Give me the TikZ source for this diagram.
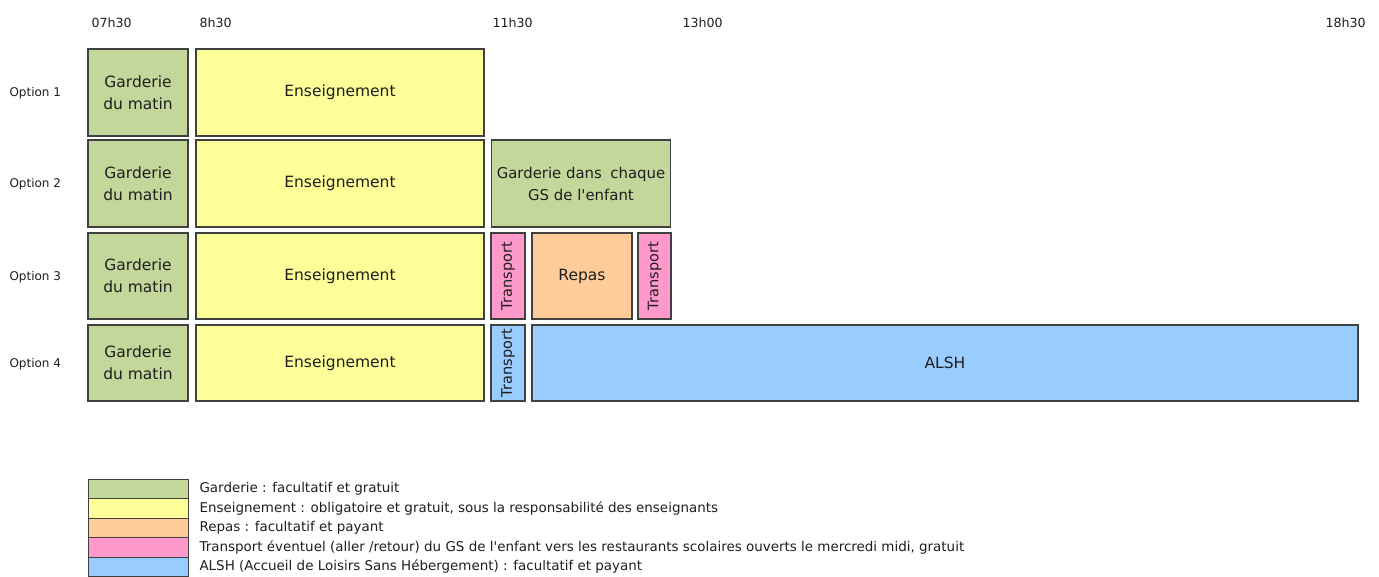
\documentclass[tikz,border=0pt]{standalone}
\usepackage{fontspec}
\setmainfont{DejaVu Sans}[Ligatures=TeXOff]
\usetikzlibrary{positioning}
\definecolor{gardGreen}{HTML}{C4D79B}
\definecolor{ensYellow}{HTML}{FFFF99}
\definecolor{repasOrange}{HTML}{FFCC99}
\definecolor{transPink}{HTML}{FF99CC}
\definecolor{alshBlue}{HTML}{99CCFF}
\definecolor{edgeGrey}{HTML}{404040}
\definecolor{txtGrey}{HTML}{1E1E1E}
\newcommand{\boxfont}{\fontsize{15.5}{22}\selectfont}
\newcommand{\legfont}{\fontsize{13.45}{16}\selectfont}

\begin{document}
\begin{tikzpicture}[x=1pt,y=-1pt,text=txtGrey,
  activity/.style={draw=edgeGrey,line width=1.1pt,inner sep=0pt,align=center,font=\boxfont},
  transp/.style={activity,rotate=90,font=\fontsize{14.5}{17}\selectfont},
  swatch/.style={draw=edgeGrey,line width=1pt,inner sep=0pt,minimum width=100pt,minimum height=19.5pt},
  hour/.style={anchor=base west,font=\fontsize{12.6}{15}\selectfont},
  optlab/.style={anchor=west,font=\fontsize{12}{14}\selectfont},
  legtext/.style={anchor=west,font=\legfont}]
  \useasboundingbox (0,0) rectangle (1379,576);
  % time axis
  \foreach \x/\lab/\nm in {88/07h30/t0730,196/8h30/t0830,489/11h30/t1130,679/13h00/t1300,1322/18h30/t1830}{
    \node[hour] (\nm) at (\x,27) {\lab};
  }
  % the four rows: label, morning care, teaching
  \foreach \r/\ya/\yb in {1/49/136,2/140/227,3/233/319,4/325/401}{
    \node[optlab] (opt\r) at (6,{(\ya+\yb)/2+1}) {Option \r};
    \node[activity,fill=gardGreen,minimum width=100pt,minimum height={(\yb-\ya)*1pt}]
      (gard\r) at (138,{(\ya+\yb)/2}) {Garderie\\du matin};
    \node[activity,fill=ensYellow,minimum width=288pt,minimum height={(\yb-\ya)*1pt}]
      (ens\r) at (340,{(\ya+\yb)/2}) {Enseignement};
  }
  % option 2: care at school
  \node[activity,fill=gardGreen,minimum width=179pt,minimum height=87pt,
    font=\fontsize{14.9}{22}\selectfont]
    (gardGS) at (581,183.5) {Garderie dans\hspace{0.25em} chaque\\GS de l'enfant};
  % option 3: transport, meal, transport
  \node[transp,fill=transPink,minimum width=86pt,minimum height=34pt]
    (trA) at (508,276) {Transport};
  \node[activity,fill=repasOrange,minimum width=100pt,minimum height=86pt]
    (repas) at (582,276) {Repas};
  \node[transp,fill=transPink,minimum width=86pt,minimum height=33pt]
    (trB) at (654.5,276) {Transport};
  % option 4: transport then ALSH
  \node[transp,fill=alshBlue,minimum width=76pt,minimum height=34pt]
    (trC) at (508,363) {Transport};
  \node[activity,fill=alshBlue,minimum width=826pt,minimum height=76pt]
    (alsh) at (945,363) {ALSH};
  % legend
  \foreach \i/\y/\col in {1/489/gardGreen,2/508.5/ensYellow,3/528/repasOrange,4/547.5/transPink,5/567/alshBlue}{
    \node[swatch,fill=\col] (leg\i) at (138,\y) {};
  }
  \node[legtext] (legt1) at (196,489) {Garderie : facultatif et gratuit};
  \node[legtext] (legt2) at (196,508.5) {Enseignement : obligatoire et gratuit, sous la responsabilité des enseignants};
  \node[legtext] (legt3) at (196,528) {Repas : facultatif et payant};
  \node[legtext] (legt4) at (196,547.5) {Transport éventuel (aller /retour) du GS de l'enfant vers les restaurants scolaires ouverts le mercredi midi, gratuit};
  \node[legtext] (legt5) at (196,567) {ALSH (Accueil de Loisirs Sans Hébergement) : facultatif et payant};
\end{tikzpicture}
\end{document}
